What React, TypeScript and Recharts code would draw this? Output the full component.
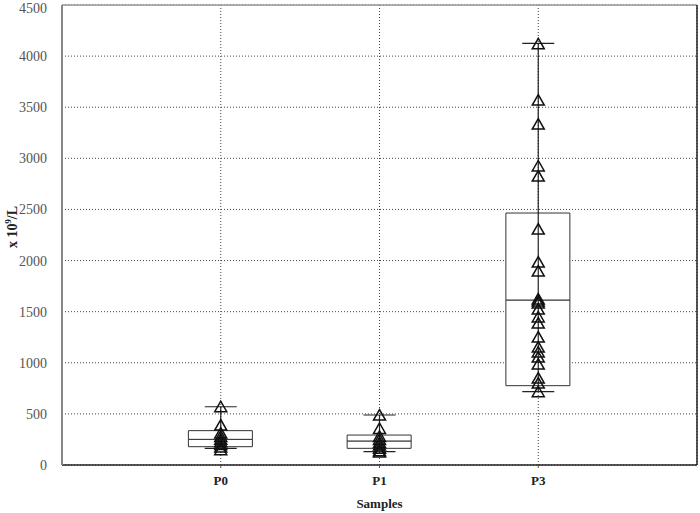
import React from 'react';
import {
  ComposedChart,
  Bar,
  Scatter,
  ErrorBar,
  XAxis,
  YAxis,
  CartesianGrid,
  ReferenceLine,
} from 'recharts';

const categories = ['P0', 'P1', 'P3'];
const positions = [1, 2, 3];
const yTicks = [0, 500, 1000, 1500, 2000, 2500, 3000, 3500, 4000, 4500];

// box statistics per sample
const boxMin = [163, 130, 717];
const boxQ1 = [179, 163, 776];
const boxMedian = [251, 235, 1614];
const boxQ3 = [336, 293, 2465];
const boxMax = [570, 489, 4125];

// raw observations
const p0Values = [570, 391, 313, 280, 251, 228, 200, 175, 150];
const p1Values = [489, 358, 280, 250, 220, 195, 165, 140, 127];
const p3Values = [
  4120, 3570, 3335, 2925, 2827, 2308, 1985, 1897, 1625, 1605, 1585, 1526,
  1448, 1389, 1252, 1154, 1105, 1056, 988, 851, 802, 717,
];

const boxData = positions.map((x, i) => ({
  x,
  base: boxQ1[i],
  lower: boxMedian[i] - boxQ1[i],
  upper: boxQ3[i] - boxMedian[i],
}));

const whiskerData = positions.map((x, i) => ({
  x,
  y: boxMedian[i],
  err: [boxMedian[i] - boxMin[i], boxMax[i] - boxMedian[i]],
}));

const pointData = [p0Values, p1Values, p3Values].flatMap((vals, i) =>
  vals.map((v) => ({ x: positions[i], y: v }))
);

const serif = '"Liberation Serif", "DejaVu Serif", serif';

const Triangle = (props: any) => {
  const { cx, cy } = props;
  if (cx == null || cy == null) return <g />;
  const w = 6;
  const h = 5.5;
  return (
    <polygon
      points={`${cx},${cy - h} ${cx - w},${cy + h - 0.5} ${cx + w},${cy + h - 0.5}`}
      fill="none"
      stroke="#111"
      strokeWidth={1.5}
    />
  );
};

const YLabel = (props: any) => {
  const { viewBox } = props;
  const x = 17;
  const y = viewBox.y + viewBox.height / 2 - 8;
  return (
    <text
      x={x}
      y={y}
      transform={`rotate(-90, ${x}, ${y})`}
      textAnchor="middle"
      fontFamily={serif}
      fontWeight="bold"
      fontSize={14}
      fill="#222"
    >
      x 10
      <tspan fontSize={9} dy={-6}>9</tspan>
      <tspan dy={6}>/L</tspan>
    </text>
  );
};

export default function App() {
  return (
    <div style={{ position: 'absolute', left: 0, top: 0, background: '#fff' }}>
      <ComposedChart
        width={700}
        height={513}
        data={boxData}
        margin={{ top: 5, right: 3, bottom: 0, left: 0 }}
      >
        <CartesianGrid stroke="#444" strokeDasharray="1 2" />
        <XAxis
          dataKey="x"
          type="number"
          domain={[0, 4]}
          ticks={positions}
          tickFormatter={(v: number) => categories[positions.indexOf(v)]}
          height={48}
          axisLine={{ stroke: '#222', strokeWidth: 1.5 }}
          tickLine={{ stroke: '#555' }}
          tickSize={3}
          tickMargin={8}
          tick={{ fontFamily: serif, fontWeight: 'bold', fontSize: 13, fill: '#222' }}
          label={{
            value: 'Samples',
            position: 'insideBottom',
            offset: 5,
            style: { fontFamily: serif, fontWeight: 'bold', fontSize: 13, fill: '#222' },
          }}
        />
        <YAxis
          type="number"
          domain={[0, 4500]}
          ticks={yTicks}
          width={62}
          axisLine={{ stroke: '#888', strokeWidth: 2 }}
          tickLine={false}
          tickMargin={9}
          tick={{ fontFamily: serif, fontSize: 14, fill: '#555' }}
          label={<YLabel />}
        />
        <ReferenceLine y={4500} stroke="#999" strokeWidth={1.5} />
        <ReferenceLine x={4} stroke="#222" strokeWidth={1.5} />
        <Bar dataKey="base" stackId="box" barSize={64} fill="none" stroke="none" isAnimationActive={false} />
        <Bar dataKey="lower" stackId="box" barSize={64} fill="#fff" stroke="#333" strokeWidth={1} isAnimationActive={false} />
        <Bar dataKey="upper" stackId="box" barSize={64} fill="#fff" stroke="#333" strokeWidth={1} isAnimationActive={false} />
        <Scatter data={whiskerData} dataKey="y" shape={() => <g />} isAnimationActive={false}>
          <ErrorBar dataKey="err" direction="y" width={16} stroke="#222" strokeWidth={1.2} />
        </Scatter>
        <Scatter data={pointData} dataKey="y" shape={<Triangle />} isAnimationActive={false} />
      </ComposedChart>
    </div>
  );
}
